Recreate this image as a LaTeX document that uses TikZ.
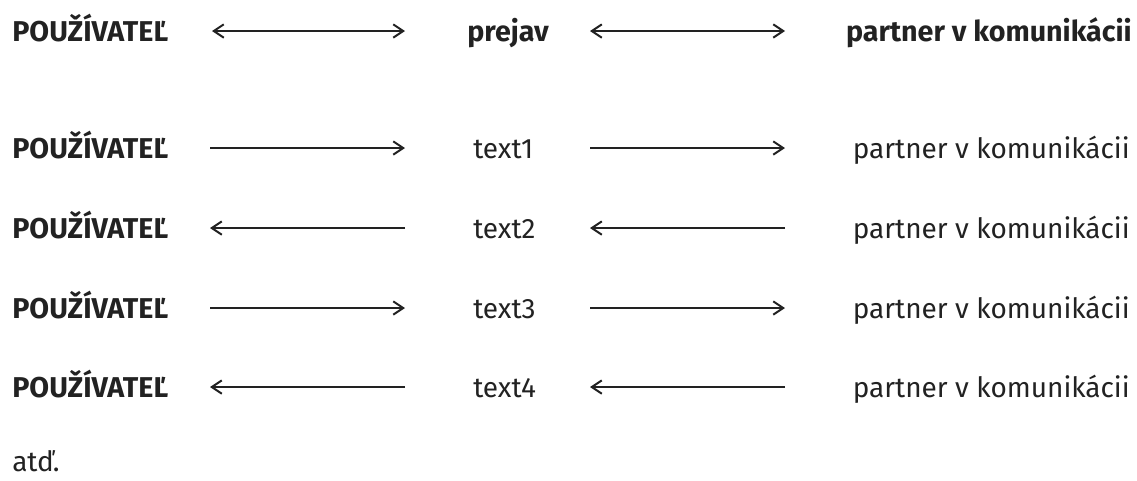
\documentclass[tikz,border=0pt]{standalone}
\usepackage{fontspec}
\setmainfont{Fira Sans}
\usetikzlibrary{arrows.meta}

\definecolor{ink}{HTML}{222222}

\tikzset{
  lbl/.style={inner sep=0pt, anchor=base west, text=ink, font=\fontsize{21}{25}\selectfont},
  lblb/.style={lbl, font=\fontsize{21.5}{25}\selectfont\bfseries},
  conn/.style={line width=1.5pt, draw=ink,
    arrows={-Straight Barb[length=7.5pt, width=10pt, line width=1.5pt]}},
  biconn/.style={line width=1.5pt, draw=ink,
    arrows={Straight Barb[length=7.5pt, width=10pt, line width=1.5pt]-Straight Barb[length=7.5pt, width=10pt, line width=1.5pt]}},
}

\begin{document}
\begin{tikzpicture}[x=0.75pt, y=-0.75pt]
  \useasboundingbox (0,0) rectangle (1137,480);

  % header row
  \node[lblb] (u0) at (12,41) {POUŽÍVATEĽ};
  \node[lblb] (p0) at (467,41) {prejav};
  \node[lblb, anchor=base east] (k0) at (1132,41) {partner v komunikácii};
  \coordinate (a0l) at (212,31);
  \coordinate (a0r) at (405,31);
  \coordinate (b0l) at (590,31);
  \coordinate (b0r) at (785,31);
  \draw[biconn] (a0l) -- (a0r);
  \draw[biconn] (b0l) -- (b0r);

  % message rows
  \foreach \i/\y/\dir in {1/158/r, 2/238/l, 3/318/r, 4/397/l} {
    \node[lblb] (u\i) at (12,\y) {POUŽÍVATEĽ};
    \node[lbl] (t\i) at (473,\y) {text\i};
    \node[lbl, anchor=base east] (k\i) at (1130,\y) {partner v komunikácii};
    \coordinate (a\i l) at (210,\y-10);
    \coordinate (a\i r) at (405,\y-10);
    \coordinate (b\i l) at (590,\y-10);
    \coordinate (b\i r) at (785,\y-10);
    \if r\dir
      \draw[conn] (a\i l) -- (a\i r);
      \draw[conn] (b\i l) -- (b\i r);
    \else
      \draw[conn] (a\i r) -- (a\i l);
      \draw[conn] (b\i r) -- (b\i l);
    \fi
  }

  \node[lbl] (etc) at (12,471) {atď.};
\end{tikzpicture}
\end{document}
